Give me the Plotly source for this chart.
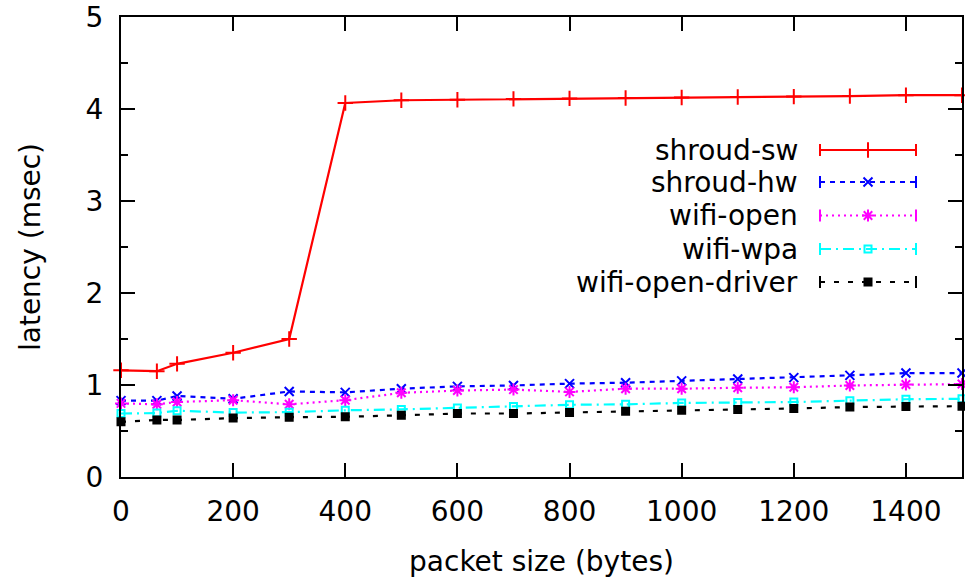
import plotly.graph_objects as go

# packet sizes (bytes)
sizes = [0, 64, 100, 200, 300, 400, 500, 600, 700, 800, 900, 1000, 1100, 1200, 1300, 1400, 1500]

# latency (msec) per configuration
shroud_sw = [1.16, 1.15, 1.23, 1.35, 1.50, 4.065, 4.095, 4.10, 4.11, 4.115, 4.12, 4.125, 4.13, 4.135, 4.14, 4.15, 4.15]
shroud_hw = [0.83, 0.83, 0.88, 0.85, 0.93, 0.92, 0.96, 0.985, 0.995, 1.015, 1.025, 1.045, 1.065, 1.08, 1.105, 1.13, 1.13]
wifi_open = [0.80, 0.79, 0.815, 0.835, 0.79, 0.835, 0.915, 0.94, 0.95, 0.925, 0.96, 0.96, 0.97, 0.975, 0.995, 1.005, 1.01]
wifi_wpa = [0.69, 0.695, 0.72, 0.70, 0.705, 0.725, 0.735, 0.75, 0.765, 0.785, 0.79, 0.805, 0.81, 0.815, 0.83, 0.845, 0.85]
wifi_open_driver = [0.60, 0.62, 0.62, 0.64, 0.65, 0.655, 0.67, 0.69, 0.69, 0.70, 0.715, 0.725, 0.735, 0.745, 0.76, 0.765, 0.77]

xticks = [0, 200, 400, 600, 800, 1000, 1200, 1400]
yticks = [0, 1, 2, 3, 4, 5]

FONT = "DejaVu Sans, Liberation Sans, Arial, sans-serif"
FS = 28

# (name, values, colour, dash, symbol, marker size)
SERIES = [
    ("shroud-sw", shroud_sw, "#ff0000", "solid", "cross-thin", 11),
    ("shroud-hw", shroud_hw, "#0000ff", "5px,5px", "x-thin", 9),
    ("wifi-open", wifi_open, "#ff00ff", "2px,4px", "asterisk", 10),
    ("wifi-wpa", wifi_wpa, "#00ffff", "11px,5px,2px,5px", "square-open", 7),
    ("wifi-open-driver", wifi_open_driver, "#000000", "5px,9px", "square", 7),
]

# figure / plot area in pixels
W, H = 965, 579
L, R, T, B = 121, 3, 17, 102
PW, PH = W - L - R, H - T - B


def px(x):
    return (x - L) / PW


def py(y):
    return (H - B - y) / PH


fig = go.Figure()

for name, vals, color, dash, sym, msize in SERIES:
    fig.add_trace(go.Scatter(
        x=sizes, y=vals, name=name, mode="lines+markers",
        line=dict(color=color, width=2.2, dash=dash),
        marker=dict(symbol=sym, size=msize, color=color,
                    line=dict(color=color, width=2)),
        showlegend=False, cliponaxis=False,
    ))

# gnuplot-style key: text right-aligned, sample to the right
row_y = [150, 182, 215.5, 249, 282]
text_right, s0, s1, smid = 800, 820, 916, 868
shapes = []
annotations = []
for (name, vals, color, dash, sym, msize), ry in zip(SERIES, row_y):
    annotations.append(dict(
        x=px(text_right), y=py(ry), xref="paper", yref="paper",
        text=name, showarrow=False, xanchor="right", yanchor="middle",
        font=dict(family=FONT, size=FS, color="black"),
    ))
    shapes.append(dict(type="line", xref="paper", yref="paper",
                       x0=px(s0), x1=px(s1), y0=py(ry), y1=py(ry),
                       line=dict(color=color, width=2, dash=dash)))
    for cx in (s0, s1):
        shapes.append(dict(type="line", xref="paper", yref="paper",
                           x0=px(cx), x1=px(cx), y0=py(ry - 6), y1=py(ry + 6),
                           line=dict(color=color, width=2)))
    fig.add_trace(go.Scatter(
        x=[px(smid)], y=[py(ry)], xaxis="x2", yaxis="y2", mode="markers",
        marker=dict(symbol=sym, size=msize, color=color,
                    line=dict(color=color, width=2)),
        showlegend=False, hoverinfo="skip",
    ))

axis_common = dict(
    showline=True, linecolor="black", linewidth=2, mirror="allticks",
    ticks="inside", ticklen=14, tickwidth=2, tickcolor="black",
    showgrid=False, zeroline=False, automargin=False,
    tickfont=dict(family=FONT, size=FS, color="black"),
)

fig.update_layout(
    width=W, height=H,
    margin=dict(l=L, r=R, t=T, b=B),
    paper_bgcolor="white", plot_bgcolor="white",
    font=dict(family=FONT, size=FS, color="black"),
    showlegend=False,
    shapes=shapes,
    annotations=annotations,
    xaxis=dict(
        range=[0, 1500], tickvals=xticks, ticklabelstandoff=8,
        title=dict(text="packet size (bytes)", standoff=25,
                   font=dict(family=FONT, size=FS)),
        **axis_common,
    ),
    yaxis=dict(
        range=[0, 5], tickvals=yticks, ticklabelstandoff=10,
        minor=dict(dtick=0.5, ticks="inside", ticklen=7, tickwidth=2,
                   tickcolor="black", showgrid=False),
        title=dict(text="latency (msec)", standoff=37,
                   font=dict(family=FONT, size=FS)),
        **axis_common,
    ),
    xaxis2=dict(overlaying="x", range=[0, 1], visible=False, fixedrange=True),
    yaxis2=dict(overlaying="y", range=[0, 1], visible=False, fixedrange=True),
)

# drop the browser's default body margin so the figure sits at (0, 0)
fig.write_html(
    "out.html",
    config={"displayModeBar": False},
    post_script="document.body.style.margin = '0';",
)
